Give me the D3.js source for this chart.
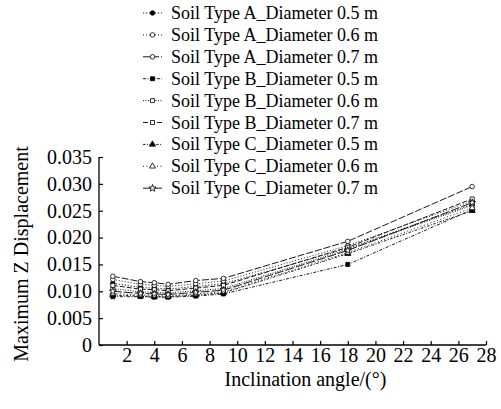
<!DOCTYPE html>
<html>
<head>
<meta charset="utf-8">
<script src="https://cdn.jsdelivr.net/npm/d3@7"></script>
<style>
  body { margin: 0; background: #fff; }
  text { font-family: "Liberation Serif", "Times New Roman", serif; fill: #000; }
</style>
</head>
<body>
<script>
const width = 501;
const height = 409;

// inclination angles (deg)
const angles = [1, 3, 4, 5, 7, 9, 18, 27];

const seriesNames = [
    'Soil Type A_Diameter 0.5 m',
    'Soil Type A_Diameter 0.6 m',
    'Soil Type A_Diameter 0.7 m',
    'Soil Type B_Diameter 0.5 m',
    'Soil Type B_Diameter 0.6 m',
    'Soil Type B_Diameter 0.7 m',
    'Soil Type C_Diameter 0.5 m',
    'Soil Type C_Diameter 0.6 m',
    'Soil Type C_Diameter 0.7 m'
];

const soilA05 = [0.0115, 0.0107, 0.0106, 0.0104, 0.0109, 0.0114, 0.0180, 0.0262];
const soilA06 = [0.0122, 0.0113, 0.0111, 0.0109, 0.0114, 0.0119, 0.0185, 0.0268];
const soilA07 = [0.0128, 0.0118, 0.0116, 0.0113, 0.0120, 0.0124, 0.0193, 0.0295];
const soilB05 = [0.0090, 0.0090, 0.0089, 0.0089, 0.0091, 0.0095, 0.0150, 0.0252];
const soilB06 = [0.0105, 0.0099, 0.0098, 0.0097, 0.0101, 0.0105, 0.0178, 0.0260];
const soilB07 = [0.0111, 0.0104, 0.0103, 0.0101, 0.0106, 0.0111, 0.0182, 0.0272];
const soilC05 = [0.0093, 0.0091, 0.0090, 0.0090, 0.0093, 0.0097, 0.0170, 0.0250];
const soilC06 = [0.0096, 0.0093, 0.0092, 0.0091, 0.0095, 0.0099, 0.0172, 0.0255];
const soilC07 = [0.0100, 0.0096, 0.0095, 0.0094, 0.0098, 0.0102, 0.0176, 0.0265];

const xTicks = [2, 4, 6, 8, 10, 12, 14, 16, 18, 20, 22, 24, 26, 28];
const yTicks = [0, 0.005, 0.010, 0.015, 0.020, 0.025, 0.030, 0.035];

const allValues = [soilA05, soilA06, soilA07, soilB05, soilB06, soilB07, soilC05, soilC06, soilC07];

// marker + line style per series
const styles = [
    { symbol: d3.symbolCircle, filled: true, dash: '1.2,1.8' },
    { symbol: d3.symbolCircle, filled: false, dash: '1,2' },
    { symbol: d3.symbolCircle, filled: false, dash: '7,2' },
    { symbol: d3.symbolSquare, filled: true, dash: '3,1.5,1,1.5' },
    { symbol: d3.symbolSquare, filled: false, dash: '1,1.5' },
    { symbol: d3.symbolSquare, filled: false, dash: '5,2' },
    { symbol: d3.symbolTriangle, filled: true, dash: '2.5,1.5,1,1.5' },
    { symbol: d3.symbolTriangle, filled: false, dash: '1,2.5' },
    { symbol: d3.symbolStar, filled: false, dash: '9,2' }
];

const margin = { top: 157, right: 15, bottom: 64, left: 99 };

const svg = d3.select('body')
    .append('svg')
    .attr('width', width)
    .attr('height', height);

const x = d3.scaleLinear()
    .domain([0, 28])
    .range([margin.left, width - margin.right]);

const y = d3.scaleLinear()
    .domain([0, 0.035])
    .range([height - margin.bottom, margin.top]);

const series = seriesNames.map((name, i) => ({
    name,
    style: styles[i],
    points: angles.map((a, j) => ({ a, v: allValues[i][j] }))
}));

const line = d3.line()
    .x(d => x(d.a))
    .y(d => y(d.v));

// axes, ticks pointing inwards
const xAxis = svg.append('g')
    .attr('transform', `translate(0,${height - margin.bottom})`)
    .call(d3.axisBottom(x).tickValues(xTicks).tickSizeInner(-4).tickSizeOuter(0).tickPadding(3));

const yAxis = svg.append('g')
    .attr('transform', `translate(${margin.left},0)`)
    .call(d3.axisLeft(y).tickValues(yTicks).tickSizeInner(-4).tickSizeOuter(0).tickPadding(7)
        .tickFormat(d => d === 0 ? '0' : d3.format('.3f')(d)));

[xAxis, yAxis].forEach(g => {
    g.select('.domain').attr('stroke', '#000').attr('stroke-width', 1.3);
    g.selectAll('.tick line').attr('stroke', '#000').attr('stroke-width', 1.2);
    g.selectAll('.tick text')
        .style('font-family', '"Liberation Serif", serif')
        .style('font-size', '20px')
        .attr('fill', '#000');
});
// close the y axis up to the top tick and the x axis to the origin
yAxis.select('.domain').attr('d', `M0,${y(0)}V${y(0.035)}`);
xAxis.select('.domain').attr('d', `M${margin.left},0H${x(28)}`);

svg.append('text')
    .attr('x', (x(0) + x(28)) / 2 + 13)
    .attr('y', 386)
    .attr('text-anchor', 'middle')
    .style('font-size', '20px')
    .text('Inclination angle/(°)');

svg.append('text')
    .attr('transform', `translate(28,${(y(0) + y(0.035)) / 2 + 3}) rotate(-90)`)
    .attr('text-anchor', 'middle')
    .style('font-size', '20px')
    .text('Maximum Z Displacement');

const markerPath = (s, size) => d3.symbol().type(s.symbol).size(size)();

const g = svg.append('g');

series.forEach(s => {
    g.append('path')
        .datum(s.points)
        .attr('d', line)
        .attr('fill', 'none')
        .attr('stroke', '#000')
        .attr('stroke-width', 0.9)
        .attr('stroke-dasharray', s.style.dash);

    g.selectAll(null)
        .data(s.points)
        .join('path')
        .attr('transform', d => `translate(${x(d.a)},${y(d.v)})`)
        .attr('d', markerPath(s.style, 16))
        .attr('fill', s.style.filled ? '#000' : '#fff')
        .attr('stroke', '#000')
        .attr('stroke-width', 0.8);
});

// legend
const legend = svg.append('g');
seriesNames.forEach((name, i) => {
    const s = styles[i];
    const ly = 13 + i * 21.9;
    legend.append('line')
        .attr('x1', 143)
        .attr('x2', 162)
        .attr('y1', ly)
        .attr('y2', ly)
        .attr('stroke', '#000')
        .attr('stroke-width', 0.9)
        .attr('stroke-dasharray', s.dash);
    legend.append('path')
        .attr('transform', `translate(152.5,${ly})`)
        .attr('d', markerPath(s, 16))
        .attr('fill', s.filled ? '#000' : '#fff')
        .attr('stroke', '#000')
        .attr('stroke-width', 0.8);
    legend.append('text')
        .attr('x', 171)
        .attr('y', ly + 6)
        .style('font-size', '18px')
        .text(name);
});
</script>
</body>
</html>
